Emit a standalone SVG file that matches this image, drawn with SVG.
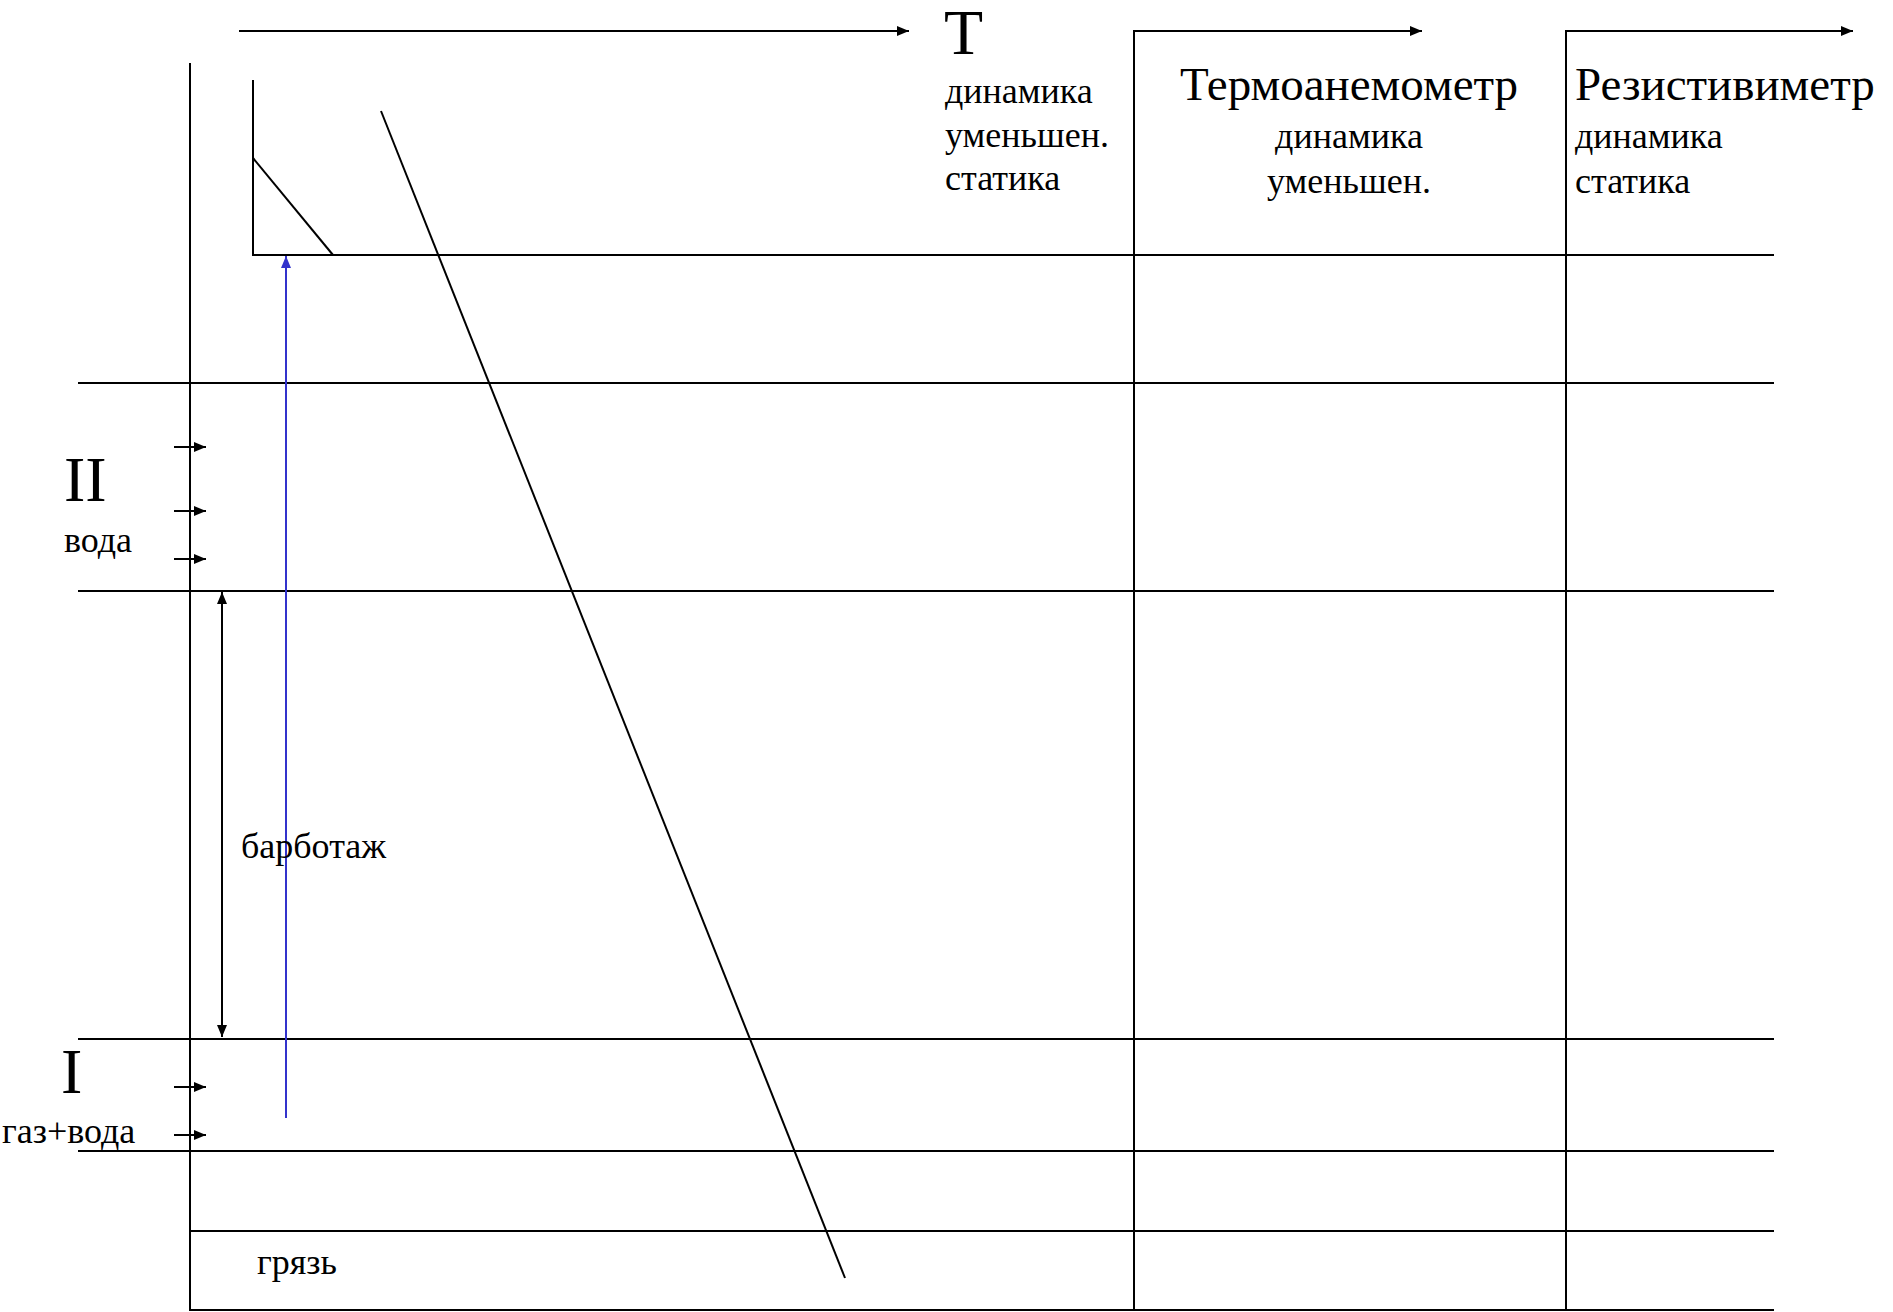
<svg xmlns="http://www.w3.org/2000/svg" width="1893" height="1312" viewBox="0 0 1893 1312">
<style>
.ln{stroke:#000;stroke-width:2;fill:none}
.bl{stroke:#3333cc;stroke-width:2;fill:none}
text{font-family:"Liberation Serif","Times New Roman",serif;fill:#000}
.big{font-size:64px}
.ttl{font-size:47px}
.sm{font-size:36px}
</style>
<defs>
<marker id="ah" viewBox="0 0 12 10" refX="12" refY="5" markerWidth="12" markerHeight="10" markerUnits="userSpaceOnUse" orient="auto-start-reverse"><path d="M0,0 L12,5 L0,10 z" fill="#000"/></marker>
<marker id="ahb" viewBox="0 0 12 10" refX="12" refY="5" markerWidth="12" markerHeight="10" markerUnits="userSpaceOnUse" orient="auto"><path d="M0,0 L12,5 L0,10 z" fill="#3333cc"/></marker>
</defs>
<rect width="1893" height="1312" fill="#fff"/>
<g id="connectors">
<line class="ln" x1="239" y1="31" x2="909" y2="31" marker-end="url(#ah)"/>
<polyline class="ln" points="1134,1310 1134,31 1422,31" marker-end="url(#ah)"/>
<polyline class="ln" points="1566,1310 1566,31 1853,31" marker-end="url(#ah)"/>
<line class="ln" x1="190" y1="63" x2="190" y2="1311"/>
<polyline class="ln" points="253,80 253,255 1774,255"/>
<line class="ln" x1="253" y1="158" x2="333" y2="255"/>
<line class="ln" x1="381" y1="111" x2="845" y2="1278"/>
<line class="ln" x1="78" y1="383" x2="1774" y2="383"/>
<line class="ln" x1="78" y1="591" x2="1774" y2="591"/>
<line class="ln" x1="78" y1="1039" x2="1774" y2="1039"/>
<line class="ln" x1="78" y1="1151" x2="1774" y2="1151"/>
<line class="ln" x1="190" y1="1231" x2="1774" y2="1231"/>
<line class="ln" x1="190" y1="1310" x2="1774" y2="1310"/>
<line class="ln" x1="174" y1="447" x2="206" y2="447" marker-end="url(#ah)"/>
<line class="ln" x1="174" y1="511" x2="206" y2="511" marker-end="url(#ah)"/>
<line class="ln" x1="174" y1="559" x2="206" y2="559" marker-end="url(#ah)"/>
<line class="ln" x1="174" y1="1087" x2="206" y2="1087" marker-end="url(#ah)"/>
<line class="ln" x1="174" y1="1135" x2="206" y2="1135" marker-end="url(#ah)"/>
<line class="ln" x1="222" y1="592" x2="222" y2="1037" marker-start="url(#ah)" marker-end="url(#ah)"/>
<line class="bl" x1="286" y1="1118" x2="286" y2="256" marker-end="url(#ahb)"/>
</g>
<g id="node-T">
<text class="big" x="944" y="54">T</text>
<text class="sm" x="945" y="103">динамика</text>
<text class="sm" x="945" y="147">уменьшен.</text>
<text class="sm" x="945" y="190">статика</text>
</g>
<g id="node-thermo">
<text class="ttl" x="1349" y="100" text-anchor="middle">Термоанемометр</text>
<text class="sm" x="1349" y="148" text-anchor="middle">динамика</text>
<text class="sm" x="1349" y="193" text-anchor="middle">уменьшен.</text>
</g>
<g id="node-resist">
<text class="ttl" x="1575" y="100">Резистивиметр</text>
<text class="sm" x="1575" y="148">динамика</text>
<text class="sm" x="1575" y="193">статика</text>
</g>
<g id="node-II">
<text class="big" x="64" y="501">II</text>
<text class="sm" x="64" y="552">вода</text>
</g>
<g id="node-I">
<text class="big" x="61" y="1093">I</text>
<text class="sm" x="2" y="1143">газ+вода</text>
</g>
<g id="node-barb">
<text class="sm" x="241" y="858">барботаж</text>
</g>
<g id="node-mud">
<text class="sm" x="257" y="1274">грязь</text>
</g>
</svg>
